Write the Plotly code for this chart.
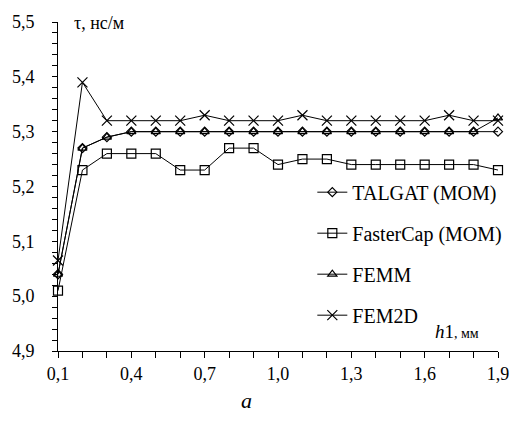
import plotly.graph_objects as go

h1 = [0.1, 0.2, 0.3, 0.4, 0.5, 0.6, 0.7, 0.8, 0.9, 1.0,
      1.1, 1.2, 1.3, 1.4, 1.5, 1.6, 1.7, 1.8, 1.9]
talgat = [5.04, 5.27, 5.29, 5.30, 5.30, 5.30, 5.30, 5.30, 5.30, 5.30,
          5.30, 5.30, 5.30, 5.30, 5.30, 5.30, 5.30, 5.30, 5.30]
fastercap = [5.01, 5.23, 5.26, 5.26, 5.26, 5.23, 5.23, 5.27, 5.27, 5.24,
             5.25, 5.25, 5.24, 5.24, 5.24, 5.24, 5.24, 5.24, 5.23]
femm = [5.04, 5.27, 5.29, 5.30, 5.30, 5.30, 5.30, 5.30, 5.30, 5.30,
        5.30, 5.30, 5.30, 5.30, 5.30, 5.30, 5.30, 5.30, 5.325]
fem2d = [5.065, 5.39, 5.32, 5.32, 5.32, 5.32, 5.33, 5.32, 5.32, 5.32,
         5.33, 5.32, 5.32, 5.32, 5.32, 5.32, 5.33, 5.32, 5.32]

series = [
    ("TALGAT (MOM)", talgat, "diamond-open", 7),
    ("FasterCap (MOM)", fastercap, "square-open", 9),
    ("FEMM", femm, "triangle-up-open", 8),
    ("FEM2D", fem2d, "x-thin-open", 10),
]

FONT = "Times New Roman, Liberation Serif, DejaVu Serif, serif"
fig = go.Figure()
for i, (name, vals, sym, sz) in enumerate(series):
    fig.add_trace(go.Scatter(
        x=h1, y=vals, name=name, mode="lines+markers",
        line=dict(color="black", width=1),
        marker=dict(symbol=sym, size=sz, color="black",
                    line=dict(color="black", width=1.2)),
        legendgroup="g%d" % i, cliponaxis=False,
    ))

fig.update_layout(
    width=521, height=426,
    margin=dict(l=54, r=14, t=19, b=75),
    paper_bgcolor="white", plot_bgcolor="white",
    separators=", ",
    font=dict(family=FONT, color="black", size=18),
    showlegend=True,
    legend=dict(x=0.578, y=0.542, xanchor="left", yanchor="top",
                bgcolor="rgba(0,0,0,0)", borderwidth=0,
                font=dict(family=FONT, size=20, color="black"),
                tracegroupgap=12, itemwidth=30),
    xaxis=dict(range=[0.1, 1.9], tickmode="linear", tick0=0.1, dtick=0.3,
               tickformat=".1f", showgrid=False, zeroline=False,
               showline=True, linecolor="black", linewidth=1,
               ticks="outside", ticklen=6, tickcolor="black", tickwidth=1,
               minor=dict(tickmode="linear", tick0=0.1, dtick=0.1,
                          ticks="outside", ticklen=6, tickcolor="black",
                          showgrid=False),
               ticklabelstandoff=0,
               tickfont=dict(family=FONT, size=18)),
    yaxis=dict(range=[4.9, 5.5], tickmode="linear", tick0=4.9, dtick=0.1,
               tickformat=".1f", showgrid=False, zeroline=False,
               showline=True, linecolor="black", linewidth=1,
               ticks="outside", ticklen=5, tickcolor="black", tickwidth=1,
               minor=dict(tickmode="linear", tick0=4.9, dtick=0.02,
                          ticks="outside", ticklen=5, tickcolor="black",
                          showgrid=False),
               ticklabelstandoff=14,
               tickfont=dict(family=FONT, size=18)),
    annotations=[
        dict(text="τ, нс/м", xref="paper", yref="paper", x=0.031, y=0.997,
             xanchor="left", yanchor="middle", showarrow=False,
             font=dict(family=FONT, size=18)),
        dict(text="<i>h</i>1<span style='font-size:14px'>, мм</span>",
             xref="paper", yref="paper", x=0.852, y=0.060,
             xanchor="left", yanchor="middle", showarrow=False,
             font=dict(family=FONT, size=19)),
        dict(text="<i>a</i>", xref="paper", yref="paper", x=0.428, y=-0.15,
             xanchor="center", yanchor="middle", showarrow=False,
             font=dict(family=FONT, size=22)),
    ],
)

fig.write_html("out.html")
